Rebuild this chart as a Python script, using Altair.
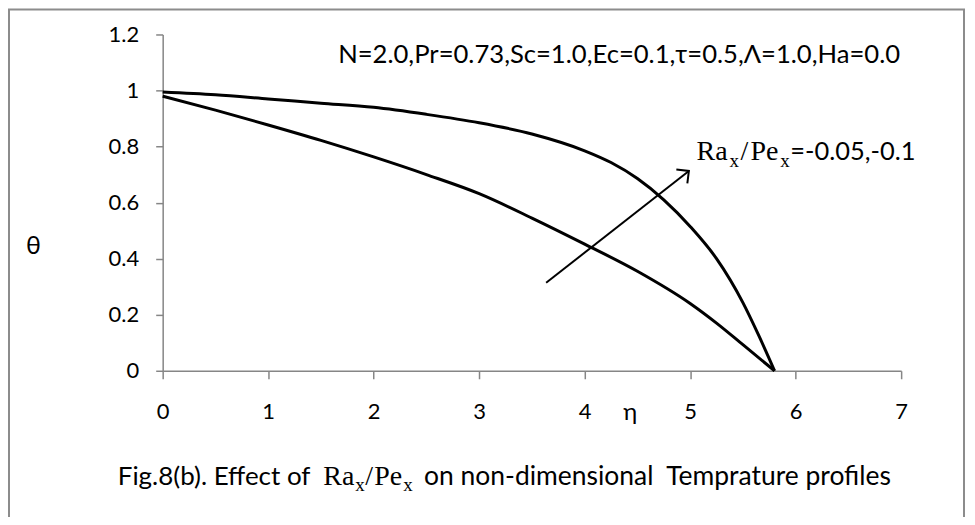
import altair as alt
import pandas as pd

# ---- data -------------------------------------------------------------
eta_upper = [0, 0.5, 1, 1.5, 2, 2.5, 3, 3.5, 4, 4.25, 4.5, 4.75, 5, 5.25, 5.5, 5.65, 5.8]
theta_upper = [0.995, 0.985, 0.97, 0.955, 0.94, 0.915, 0.885, 0.845, 0.785, 0.743,
               0.686, 0.61, 0.515, 0.40, 0.243, 0.126, 0.0]
eta_lower = [0, 0.5, 1, 1.5, 2, 2.5, 3, 3.5, 4, 4.5, 5, 5.25, 5.5, 5.8]
theta_lower = [0.98, 0.93, 0.877, 0.822, 0.763, 0.70, 0.632, 0.545, 0.452, 0.355,
               0.24, 0.17, 0.093, 0.0]
series_names = ["Ra/Pe=-0.1", "Ra/Pe=-0.05"]

x_ticks = [0, 1, 2, 3, 4, 5, 6, 7]
y_ticks = [0, 0.2, 0.4, 0.6, 0.8, 1, 1.2]

arrow_eta = [3.635, 4.988]
arrow_theta = [0.314, 0.713]

params_text = ["N=2.0,Pr=0.73,Sc=1.0,Ec=0.1,τ=0.5,Λ=1.0,Ha=0.0"]
params_eta = [6.99]
params_theta = [1.097]

ann_text = ["Ra", "x", "/", "Pe", "x", "=-0.05,-0.1"]
ann_eta = [5.061, 5.373, 5.477, 5.572, 5.855, 5.950]
ann_theta = [0.7513, 0.7264, 0.7513, 0.7513, 0.7264, 0.7513]
ann_font = ["serif", "serif", "serif", "serif", "serif", "sans"]
ann_size = [28, 19, 28, 28, 19, 25.5]

cap_text = ["Fig.8(b). Effect of", "Ra", "x", "/", "Pe", "x",
            "on non-dimensional\u00a0 Temprature profiles"]
cap_eta = [-0.4257, 1.523, 1.826, 1.921, 2.006, 2.280, 2.478]
cap_theta = [-0.409, -0.409, -0.430, -0.409, -0.409, -0.430, -0.409]
cap_font = ["sans", "serif", "serif", "serif", "serif", "serif", "sans"]
cap_size = [26, 28, 19, 28, 28, 19, 26.5]

# ---- styling ------------------------------------------------------------
SANS = "Lato, Open Sans, DejaVu Sans, sans-serif"
SERIF = "Liberation Serif, DejaVu Serif, serif"
GRAY = "#868686"
W, H = 740, 337

curves = pd.concat([
    pd.DataFrame({"eta": eta_upper, "theta": theta_upper, "series": series_names[0]}),
    pd.DataFrame({"eta": eta_lower, "theta": theta_lower, "series": series_names[1]}),
])
arrow = pd.DataFrame({"eta": arrow_eta, "theta": arrow_theta})
arrow_tip = arrow.iloc[[-1]]
params = pd.DataFrame({"eta": params_eta, "theta": params_theta, "text": params_text})
pieces = pd.concat([
    pd.DataFrame({"eta": ann_eta, "theta": ann_theta, "text": ann_text,
                  "font": ann_font, "size": ann_size}),
    pd.DataFrame({"eta": cap_eta, "theta": cap_theta, "text": cap_text,
                  "font": cap_font, "size": cap_size}),
])

xs = alt.Scale(domain=[0, 7], nice=False, zero=False)
ys = alt.Scale(domain=[0, 1.2], nice=False, zero=False)

x_axis = alt.Axis(values=x_ticks, format="d", title="η", titleAngle=0,
                  titleX=468, titleY=49, titleAlign="center", titleBaseline="alphabetic",
                  titleFont=SANS, titleFontSize=24, titleFontWeight="normal", titleColor="black",
                  labelFont=SANS, labelFontSize=22, labelColor="black", labelPadding=33,
                  labelBaseline="middle", labelFlush=False,
                  tickSize=8, tickColor=GRAY, tickWidth=1.5,
                  domainColor=GRAY, domainWidth=1.5, grid=False)
y_axis = alt.Axis(values=y_ticks, format="~g", title="θ", titleAngle=0,
                  titleX=-130, titleY=219, titleAlign="center", titleBaseline="alphabetic",
                  titleFont=SANS, titleFontSize=25, titleFontWeight="normal", titleColor="black",
                  labelFont=SANS, labelFontSize=22, labelColor="black", labelPadding=17,
                  tickSize=7, tickColor=GRAY, tickWidth=1.5,
                  domainColor=GRAY, domainWidth=1.5, grid=False)

lines = alt.Chart(curves).mark_line(color="black", strokeWidth=3, interpolate="monotone").encode(
    x=alt.X("eta:Q", scale=xs, axis=x_axis),
    y=alt.Y("theta:Q", scale=ys, axis=y_axis),
    detail="series:N",
)

border = alt.Chart(pd.DataFrame({"k": [0]})).mark_rect(
    fill="transparent", stroke="#8c8c8c", strokeWidth=2
).encode(x=alt.value(-154), x2=alt.value(803), y=alt.value(-25), y2=alt.value(560))

shaft = alt.Chart(arrow).mark_line(color="black", strokeWidth=2).encode(
    x=alt.X("eta:Q", scale=xs), y=alt.Y("theta:Q", scale=ys))
head = alt.Chart(arrow_tip).mark_point(
    shape="M-1,1L0,0L1,1", filled=False, color="black", strokeWidth=2,
    size=320, angle=52, opacity=1
).encode(x=alt.X("eta:Q", scale=xs), y=alt.Y("theta:Q", scale=ys))

params_layer = alt.Chart(params).mark_text(
    font=SANS, fontSize=25.7, align="right", baseline="alphabetic", color="black"
).encode(x=alt.X("eta:Q", scale=xs), y=alt.Y("theta:Q", scale=ys), text="text:N")


def piece_layer(font_key, family):
    return alt.Chart(pieces[pieces["font"] == font_key]).mark_text(
        font=family, align="left", baseline="alphabetic", color="black"
    ).encode(
        x=alt.X("eta:Q", scale=xs),
        y=alt.Y("theta:Q", scale=ys),
        text="text:N",
        size=alt.Size("size:Q", scale=None, legend=None),
    )


chart = alt.layer(
    lines, border, shaft, head, params_layer,
    piece_layer("sans", SANS), piece_layer("serif", SERIF)
).properties(
    width=W, height=H,
    padding={"left": 155, "top": 26, "right": 66, "bottom": 146},
    autosize=alt.AutoSizeParams(type="none"),
    background="white",
).configure_view(strokeWidth=0)

chart.save("out.html", embed_options={"renderer": "svg", "actions": False})
